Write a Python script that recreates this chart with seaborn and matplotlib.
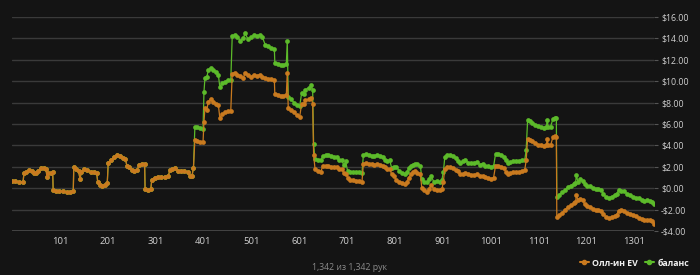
import matplotlib
matplotlib.use("Agg")
import matplotlib.pyplot as plt
import matplotlib.ticker as mticker
from matplotlib.lines import Line2D
import numpy as np
import pandas as pd
import seaborn as sns

# ---------------- data ----------------
hands = [1, 8, 16, 24, 26, 30, 36, 42, 47, 52, 56, 62, 67, 72, 74, 77, 82, 86, 87, 93,
         100, 108, 115, 122, 129, 130, 135, 140, 143, 146, 152, 158, 165, 172, 178, 180, 184, 190, 196, 200,
         202, 208, 214, 220, 226, 232, 238, 241, 246, 251, 256, 262, 267, 272, 278, 279, 285, 291, 293, 299,
         306, 313, 320, 327, 331, 336, 341, 347, 354, 361, 368, 373, 377, 380, 383, 388, 394, 400, 402, 404,
         408, 411, 416, 421, 427, 432, 435, 440, 446, 452, 458, 461, 466, 472, 478, 484, 488, 494, 500, 506,
         512, 518, 524, 530, 536, 542, 549, 550, 556, 562, 568, 574, 576, 578, 584, 590, 596, 602, 606, 610,
         614, 621, 626, 629, 631, 634, 640, 646, 650, 656, 662, 668, 674, 680, 684, 690, 694, 698, 702, 708,
         714, 720, 726, 732, 735, 740, 746, 752, 758, 764, 770, 776, 781, 784, 790, 794, 799, 804, 810, 816,
         822, 826, 830, 834, 838, 842, 848, 854, 857, 862, 867, 872, 877, 882, 888, 894, 899, 902, 905, 910,
         916, 922, 928, 933, 936, 942, 948, 954, 960, 966, 972, 978, 984, 990, 996, 1002, 1007, 1011, 1016, 1022,
         1028, 1032, 1036, 1042, 1048, 1054, 1060, 1066, 1072, 1075, 1078, 1082, 1088, 1094, 1100, 1106, 1112, 1117, 1119, 1121,
         1126, 1131, 1135, 1138, 1139, 1144, 1150, 1156, 1162, 1168, 1174, 1178, 1180, 1183, 1188, 1193, 1197, 1202, 1208, 1214,
         1220, 1226, 1232, 1236, 1242, 1248, 1254, 1260, 1264, 1268, 1274, 1280, 1286, 1292, 1298, 1304, 1310, 1316, 1322, 1328,
         1334, 1338, 1342]

allin_ev = [0.7, 0.65, 0.6, 0.55, 1.4, 1.5, 1.7, 1.65, 1.45, 1.45, 1.6, 1.9, 1.85, 1.8, 1.05, 1.45, 1.4, 1.5, -0.2, -0.25,
            -0.3, -0.25, -0.35, -0.35, -0.3, 2.0, 1.8, 1.6, 0.9, 1.5, 1.75, 1.7, 1.55, 1.5, 1.4, 0.6, 0.3, 0.25, 0.3, 0.5,
            2.4, 2.6, 2.9, 3.1, 3.0, 2.85, 2.7, 2.1, 2.0, 1.7, 1.6, 1.7, 2.2, 2.3, 2.3, -0.1, -0.15, -0.1, 0.8, 1.0,
            1.05, 1.05, 1.05, 1.1, 1.7, 1.8, 1.9, 1.65, 1.6, 1.6, 1.55, 1.1, 1.15, 1.9, 4.5, 4.4, 4.35, 4.3, 6.2, 7.5,
            7.3, 8.1, 8.3, 8.1, 7.9, 7.8, 6.6, 6.9, 7.1, 7.2, 7.25, 10.7, 10.8, 10.6, 10.5, 10.3, 10.8, 10.6, 10.4, 10.6,
            10.5, 10.6, 10.4, 10.3, 10.2, 10.2, 10.1, 8.8, 8.75, 8.6, 8.65, 8.7, 10.8, 7.5, 7.3, 7.1, 6.8, 6.7, 7.9, 7.9,
            8.2, 8.3, 8.4, 7.9, 3.1, 1.8, 1.6, 1.55, 2.05, 2.1, 2.05, 2.0, 2.0, 2.0, 1.8, 1.75, 1.4, 1.35, 1.0, 0.8,
            0.75, 0.7, 0.7, 0.6, 2.3, 2.35, 2.3, 2.25, 2.2, 2.3, 2.2, 2.1, 2.0, 1.75, 1.8, 1.3, 1.1, 0.75, 0.6, 0.5,
            0.35, 0.6, 1.0, 1.3, 1.5, 1.6, 1.4, 1.3, 0.05, -0.2, -0.35, -0.1, 0.3, -0.1, -0.15, -0.15, -0.1, 0.6, 1.8, 2.0,
            1.95, 1.85, 1.7, 1.6, 1.3, 1.35, 1.4, 1.3, 1.25, 1.25, 1.3, 1.1, 1.15, 1.05, 0.95, 0.9, 1.0, 2.1, 2.05, 1.95,
            1.85, 1.55, 1.3, 1.4, 1.5, 1.5, 1.55, 1.6, 1.7, 2.6, 4.6, 4.55, 4.4, 4.2, 4.05, 4.0, 3.95, 4.0, 4.6, 4.0,
            4.0, 4.8, 4.85, 4.8, -2.7, -2.5, -2.3, -2.0, -1.8, -1.6, -1.4, -1.3, -0.65, -1.1, -1.0, -1.1, -1.5, -1.7, -1.8, -1.9,
            -2.0, -2.0, -2.1, -2.4, -2.7, -2.8, -2.7, -2.6, -2.5, -2.1, -2.0, -2.1, -2.3, -2.4, -2.5, -2.6, -2.8, -2.9, -3.0, -3.0,
            -3.0, -3.1, -3.3]

balance = [0.7, 0.65, 0.6, 0.55, 1.4, 1.5, 1.7, 1.65, 1.45, 1.45, 1.6, 1.9, 1.85, 1.8, 1.05, 1.45, 1.4, 1.5, -0.2, -0.25,
           -0.3, -0.25, -0.35, -0.35, -0.3, 2.0, 1.8, 1.6, 0.9, 1.5, 1.75, 1.7, 1.55, 1.5, 1.4, 0.6, 0.3, 0.25, 0.3, 0.5,
           2.4, 2.6, 2.9, 3.1, 3.0, 2.85, 2.7, 2.1, 2.0, 1.7, 1.6, 1.7, 2.2, 2.3, 2.3, -0.1, -0.15, -0.1, 0.8, 1.0,
           1.05, 1.05, 1.05, 1.1, 1.7, 1.8, 1.9, 1.65, 1.6, 1.6, 1.55, 1.1, 1.15, 1.9, 5.75, 5.7, 5.6, 5.55, 9.0, 10.3,
           10.4, 11.0, 11.25, 11.0, 10.9, 10.6, 9.5, 9.8, 9.95, 10.1, 10.1, 14.2, 14.3, 14.1, 13.8, 14.0, 14.5, 13.9, 14.1, 14.3,
           14.2, 14.3, 14.1, 13.4, 13.3, 13.1, 13.0, 11.7, 11.65, 11.5, 11.5, 11.6, 13.8, 8.5, 8.3, 8.0, 7.8, 7.7, 8.9, 8.85,
           9.2, 9.4, 9.6, 9.2, 4.1, 2.7, 2.6, 2.6, 3.0, 3.1, 3.1, 3.0, 2.95, 2.9, 2.6, 2.6, 2.15, 2.5, 1.6, 1.55,
           1.55, 1.5, 1.55, 1.45, 3.1, 3.15, 3.1, 3.0, 3.05, 3.1, 3.0, 2.9, 2.65, 2.55, 2.6, 1.9, 1.95, 2.0, 1.6, 1.4,
           1.3, 1.5, 1.9, 2.1, 2.2, 2.3, 2.25, 2.1, 0.9, 0.6, 0.55, 0.9, 1.1, 0.6, 0.7, 0.55, 0.8, 1.5, 2.9, 3.1,
           3.1, 3.0, 2.85, 2.5, 2.4, 2.5, 2.6, 2.4, 2.35, 2.4, 2.45, 2.2, 2.3, 2.1, 2.05, 2.0, 2.05, 3.2, 3.2, 3.1,
           2.95, 2.6, 2.4, 2.45, 2.5, 2.5, 2.55, 2.6, 2.6, 3.6, 6.35, 6.3, 6.1, 5.95, 5.8, 5.75, 5.65, 5.7, 6.35, 5.75,
           5.75, 6.5, 6.6, 6.55, -0.8, -0.6, -0.4, -0.2, 0.1, 0.25, 0.4, 0.5, 1.2, 0.6, 0.85, 0.7, 0.4, 0.25, 0.2, 0.05,
           -0.1, -0.1, -0.15, -0.5, -0.85, -0.9, -0.8, -0.6, -0.55, -0.2, -0.25, -0.3, -0.5, -0.65, -0.8, -0.9, -0.95, -1.1, -1.2, -1.1,
           -1.2, -1.3, -1.5]

series_names = ["Олл-ин EV", "баланс"]
x_ticks = [101, 201, 301, 401, 501, 601, 701, 801, 901, 1001, 1101, 1201, 1301]
y_ticks = [-4, -2, 0, 2, 4, 6, 8, 10, 12, 14, 16]
footer_text = "1,342 из 1,342 рук"

# ---------------- style ----------------
BG = "#141414"
GRID = "#3a3a3a"
TXT = "#d0d0d0"
ORANGE = "#c97a1f"
GREEN = "#5cba2a"

sns.set_theme(style="dark")
plt.rcParams["font.family"] = ["Open Sans", "DejaVu Sans"]

fig = plt.figure(figsize=(7.0, 2.75), dpi=100, facecolor=BG)
ax = fig.add_axes([12 / 700, 1 - 231 / 275, (654 - 12) / 700, (231 - 17) / 275])
ax.set_facecolor(BG)

df_bal = pd.DataFrame({"hand": hands, "value": balance})
df_ev = pd.DataFrame({"hand": hands, "value": allin_ev})

sns.lineplot(data=df_bal, x="hand", y="value", ax=ax, color=GREEN, linewidth=0.9,
             marker="o", markersize=3.4, markeredgewidth=0, zorder=3)
sns.lineplot(data=df_ev, x="hand", y="value", ax=ax, color=ORANGE, linewidth=0.9,
             marker="o", markersize=3.4, markeredgewidth=0, zorder=4)

ax.set_xlim(1, 1342)
ax.set_ylim(-4, 16)
ax.set_xlabel("")
ax.set_ylabel("")

ax.set_yticks(y_ticks)
ax.set_xticks(x_ticks)
ax.xaxis.set_major_formatter(mticker.FuncFormatter(lambda v, p: f"{int(v)}"))
ax.yaxis.set_major_formatter(mticker.FuncFormatter(
    lambda v, p: f"-${abs(v):.2f}" if v < 0 else f"${v:.2f}"))
ax.yaxis.tick_right()
ax.tick_params(axis="y", which="major", length=3, width=0.8, color="#555555",
               labelcolor=TXT, labelsize=6.3, pad=2, right=True, left=False)
ax.tick_params(axis="x", which="major", length=0, labelcolor=TXT, labelsize=6.8, pad=4)

ax.grid(axis="y", color=GRID, linewidth=1.0)
ax.grid(axis="x", visible=False)
for s in ["top", "left", "right", "bottom"]:
    ax.spines[s].set_visible(False)
ax.axhline(-4, color="#4a4a4a", linewidth=1.2, zorder=1)

# legend
handles = [Line2D([], [], color=ORANGE, marker="o", markersize=3, linewidth=1.5),
           Line2D([], [], color=GREEN, marker="o", markersize=3, linewidth=1.5)]
leg = fig.legend(handles, series_names, loc="center right", bbox_to_anchor=(689 / 700, 1 - 263 / 275),
                 ncol=2, frameon=False, fontsize=6.3, handlelength=1.0, handletextpad=0.4,
                 columnspacing=0.8, borderpad=0, borderaxespad=0)
for t in leg.get_texts():
    t.set_color("#f0f0f0")
    t.set_fontweight("bold")

fig.text(350 / 700, 1 - 267 / 275, footer_text, ha="center", va="center",
         fontsize=6.3, color="#8a8a8a")

fig.savefig("out.png", dpi=100, facecolor=BG)
